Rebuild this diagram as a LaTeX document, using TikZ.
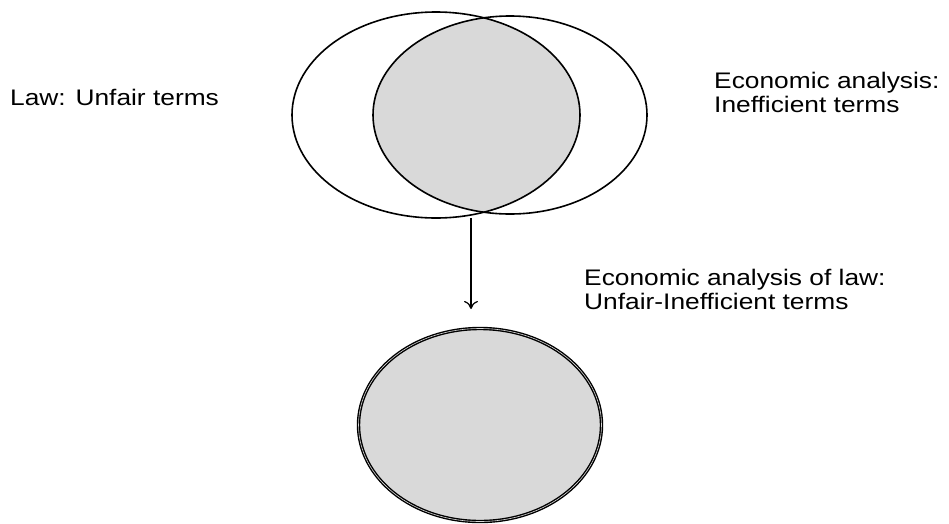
\documentclass[tikz,border=0pt]{standalone}
\usepackage{fontspec}
\setmainfont[FakeStretch=1.17]{Liberation Sans}
\usetikzlibrary{shapes.geometric,arrows.meta}
\definecolor{venngray}{HTML}{D9D9D9}
\tikzset{
  lbl/.style={anchor=base west, inner sep=0pt, align=left, font=\fontsize{22.5}{23.5}\selectfont},
  outline/.style={draw=black, line width=1.6pt},
  flow/.style={draw=black, line width=1.3pt, -{To[length=8pt,width=14pt,line width=1.2pt]}}
}
\begin{document}
\begin{tikzpicture}[x=1pt,y=-1pt]
\useasboundingbox (0,0) rectangle (949,523);
% intersection fill
\begin{scope}
  \clip (436,115) ellipse [x radius=144, y radius=103];
  \fill[venngray] (510,115) ellipse [x radius=137, y radius=99];
\end{scope}
\node[ellipse, outline, minimum width=288pt, minimum height=206pt, inner sep=0pt] (law) at (436,115) {};
\node[ellipse, outline, minimum width=274pt, minimum height=198pt, inner sep=0pt] (econ) at (510,115) {};
% bottom circle
\node[ellipse, fill=venngray, draw=black, double=venngray, double distance=0.6pt, line width=1.4pt,
      minimum width=243pt, minimum height=193pt, inner sep=0pt] (result) at (480,425) {};
% arrow
\coordinate (astart) at (471,218);
\coordinate (aend) at (471,309);
\draw[flow] (astart) -- (aend);
% labels
\node[lbl] (tlaw) at (10,105) {Law: Unfair terms};
\node[lbl] (tecon) at (714,112) {Economic analysis:\\Inefficient terms};
\node[lbl] (tres) at (584,309) {Economic analysis of law:\\Unfair-Inefficient terms};
\end{tikzpicture}
\end{document}
